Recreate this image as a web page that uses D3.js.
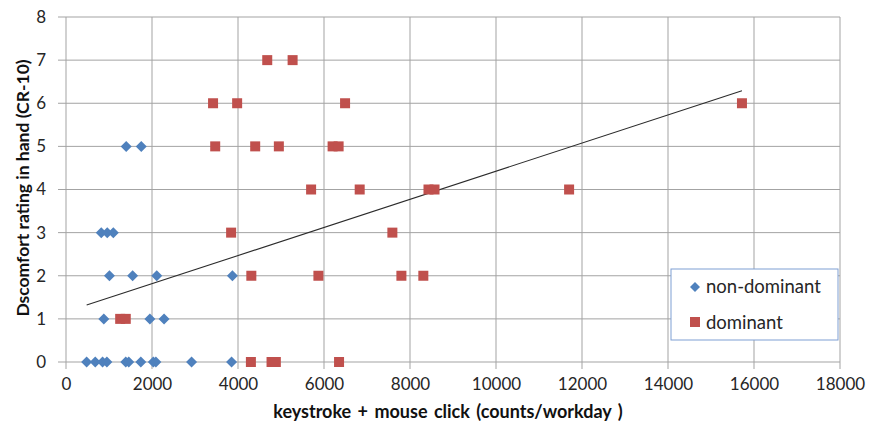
<!DOCTYPE html>
<html>
<head>
<meta charset="utf-8">
<script src="https://cdn.jsdelivr.net/npm/d3@7"></script>
<style>
	body { margin: 0; background: #fff; }
	svg text { font-family: Lato, "Open Sans", sans-serif; fill: #262626; }
</style>
</head>
<body>
<div id="chart"></div>
<script>
// non-dominant hand (blue diamonds)
const nonDomX = [1400, 1750, 820, 960, 1100, 1010, 1550, 2110, 3870, 880, 1950, 2280,
	480, 680, 850, 950, 1390, 1460, 1740, 2030, 2090, 2920, 3850];
const nonDomY = [5, 5, 3, 3, 3, 2, 2, 2, 2, 1, 1, 1,
	0, 0, 0, 0, 0, 0, 0, 0, 0, 0, 0];

// dominant hand (red squares)
const domX = [4680, 5270, 3420, 3980, 6490, 15720, 3470, 4400, 4950, 6200, 6340,
	5700, 6830, 8430, 8570, 11700, 3840, 7590, 4310, 5870, 7800, 8310,
	1260, 1390, 4300, 4780, 4880, 6350];
const domY = [7, 7, 6, 6, 6, 6, 5, 5, 5, 5, 5,
	4, 4, 4, 4, 4, 3, 3, 2, 2, 2, 2,
	1, 1, 0, 0, 0, 0];

// linear trend line, read at its two ends
const trendX = [480, 15720];
const trendY = [1.32, 6.29];

const xTicks = [0, 2000, 4000, 6000, 8000, 10000, 12000, 14000, 16000, 18000];
const yTicks = [0, 1, 2, 3, 4, 5, 6, 7, 8];
const seriesNames = ['non-dominant', 'dominant'];

const widthSvg = 870;
const heightSvg = 427;
const margin = {top: 17, right: 30, bottom: 65, left: 66};

const svg = d3.select('#chart').append('svg')
	.attr('width', widthSvg)
	.attr('height', heightSvg);

const xScale = d3.scaleLinear()
	.domain([0, 18000])
	.range([margin.left, widthSvg - margin.right]);

const yScale = d3.scaleLinear()
	.domain([0, 8])
	.range([heightSvg - margin.bottom, margin.top]);

const gridColor = '#a3a3a3';

// gridlines
svg.append('g')
	.selectAll('line')
	.data(yTicks)
	.enter().append('line')
	.attr('x1', xScale(0) - 8)
	.attr('x2', xScale(18000))
	.attr('y1', d => yScale(d))
	.attr('y2', d => yScale(d))
	.style('stroke', gridColor);

svg.append('g')
	.selectAll('line')
	.data(xTicks)
	.enter().append('line')
	.attr('x1', d => xScale(d))
	.attr('x2', d => xScale(d))
	.attr('y1', yScale(8))
	.attr('y2', yScale(0) + 7)
	.style('stroke', gridColor);

// tick labels
const yAxis = d3.axisLeft(yScale).tickValues(yTicks).tickSize(0).tickPadding(20)
	.tickFormat(d3.format('d'));
const xAxis = d3.axisBottom(xScale).tickValues(xTicks).tickSize(0).tickPadding(16)
	.tickFormat(d3.format('d'));

svg.append('g')
	.attr('transform', `translate(${margin.left}, 0)`)
	.call(yAxis)
	.call(g => g.select('.domain').remove())
	.selectAll('text')
	.style('font-size', '17px');

svg.append('g')
	.attr('transform', `translate(0, ${heightSvg - margin.bottom})`)
	.call(xAxis)
	.call(g => g.select('.domain').remove())
	.selectAll('text')
	.style('font-size', '17px');

// trend line
const line = d3.line()
	.x(d => xScale(d[0]))
	.y(d => yScale(d[1]));

svg.append('path')
	.datum(trendX.map((x, i) => [x, trendY[i]]))
	.attr('d', line)
	.style('fill', 'none')
	.style('stroke', '#2b2b2b')
	.style('stroke-width', 1.1);

const diamond = r => `M0,${-r}L${r},0L0,${r}L${-r},0Z`;

// non-dominant points
svg.append('g')
	.selectAll('path')
	.data(nonDomX)
	.enter().append('path')
	.attr('d', diamond(5.5))
	.attr('transform', (x, i) => `translate(${xScale(x)},${yScale(nonDomY[i])})`)
	.style('fill', '#4f81bd');

// dominant points
const sq = 10;
svg.append('g')
	.selectAll('rect')
	.data(domX)
	.enter().append('rect')
	.attr('width', sq)
	.attr('height', sq)
	.attr('x', x => xScale(x) - sq / 2)
	.attr('y', (x, i) => yScale(domY[i]) - sq / 2)
	.style('fill', '#c0504d');

// axis titles
svg.append('text')
	.attr('x', 448)
	.attr('y', 418)
	.attr('text-anchor', 'middle')
	.style('font-size', '18px')
	.style('word-spacing', '2px')
	.style('font-weight', 'bold')
	.style('fill', '#111')
	.text('keystroke + mouse click (counts/workday )');

svg.append('text')
	.attr('transform', `translate(29, 188) rotate(-90)`)
	.attr('text-anchor', 'middle')
	.style('font-size', '17.5px')
	.style('font-weight', 'bold')
	.style('fill', '#111')
	.text('Dscomfort rating in hand (CR-10)');

// legend
const legend = svg.append('g')
	.attr('transform', 'translate(671, 269)');

legend.append('rect')
	.attr('width', 167)
	.attr('height', 71)
	.style('fill', '#fff')
	.style('stroke', '#7f9fd3');

legend.append('path')
	.attr('d', diamond(5))
	.attr('transform', 'translate(24, 18)')
	.style('fill', '#4f81bd');

legend.append('rect')
	.attr('x', 19)
	.attr('y', 48)
	.attr('width', sq)
	.attr('height', sq)
	.style('fill', '#c0504d');

legend.selectAll('text.lbl')
	.data(seriesNames)
	.enter().append('text')
	.attr('class', 'lbl')
	.attr('x', 35)
	.attr('y', (d, i) => 24 + i * 36)
	.style('font-size', '18.5px')
	.text(d => d);
</script>
</body>
</html>
